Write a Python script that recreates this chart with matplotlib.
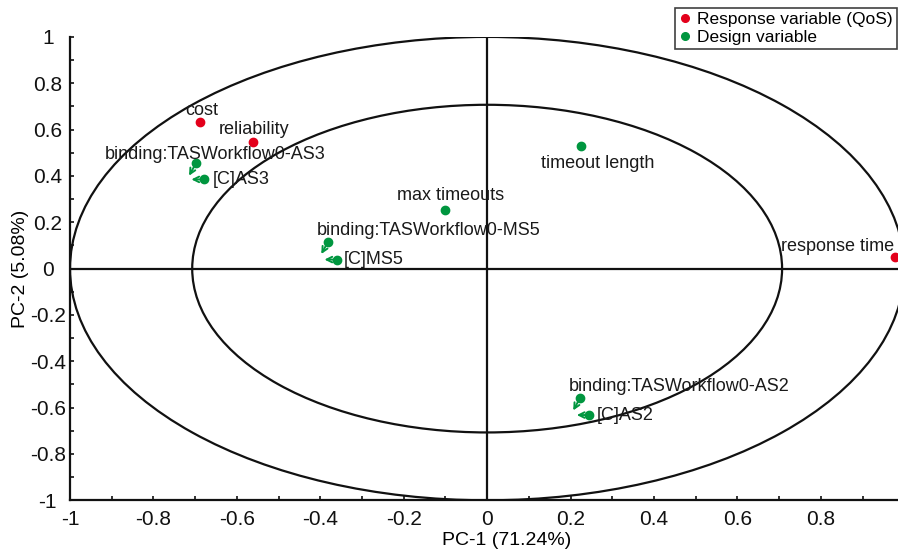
import numpy as np
import matplotlib
matplotlib.use("Agg")
import matplotlib.pyplot as plt
from matplotlib.patches import Ellipse
from matplotlib.lines import Line2D

plt.rcParams['font.family'] = ['Liberation Sans', 'DejaVu Sans']

RED = '#e3001b'
GREEN = '#00963f'

# loadings
labels = ['cost', 'reliability', 'response time',
          'binding:TASWorkflow0-AS3', '[C]AS3',
          'timeout length', 'max timeouts',
          'binding:TASWorkflow0-MS5', '[C]MS5',
          'binding:TASWorkflow0-AS2', '[C]AS2']
pc1 = [-0.688, -0.561, 0.978, -0.698, -0.679, 0.225, -0.100, -0.381, -0.360, 0.223, 0.245]
pc2 = [0.632, 0.545, 0.052, 0.455, 0.385, 0.528, 0.255, 0.117, 0.039, -0.558, -0.632]
kind = ['resp', 'resp', 'resp', 'design', 'design', 'design', 'design',
        'design', 'design', 'design', 'design']

# label placement (offset in points, alignment)
label_pos = {
    'cost': ((1, 2), 'center', 'bottom'),
    'reliability': ((1, 3), 'center', 'bottom'),
    'response time': ((-1, 1), 'right', 'bottom'),
    'binding:TASWorkflow0-AS3': ((14, 0), 'center', 'bottom'),
    '[C]AS3': ((6, 0), 'left', 'center'),
    'timeout length': ((12, -6), 'center', 'top'),
    'max timeouts': ((4, 4), 'center', 'bottom'),
    'binding:TASWorkflow0-MS5': ((-8, 2), 'left', 'bottom'),
    '[C]MS5': ((5, 0), 'left', 'center'),
    'binding:TASWorkflow0-AS2': ((-8, 2), 'left', 'bottom'),
    '[C]AS2': ((5, 0), 'left', 'center'),
}

fig = plt.figure(figsize=(8.98, 5.51), dpi=100)
ax = fig.add_axes([0.078, 0.092, 0.922, 0.841])
ax.set_xlim(-1, 0.985)
ax.set_ylim(-1, 1)

# correlation circles (100% and 50% explained variance)
for r in [1.0, np.sqrt(0.5)]:
    ax.add_patch(Ellipse((0, 0), 2 * r, 2 * r, fill=False, ec='#111111', lw=1.6, zorder=1))
ax.axhline(0, color='#111111', lw=1.6, zorder=1)
ax.axvline(0, color='#111111', lw=1.6, zorder=1)

for x, y, lab, k in zip(pc1, pc2, labels, kind):
    col = RED if k == 'resp' else GREEN
    ax.plot(x, y, 'o', ms=6, color=col, zorder=3, clip_on=False)
    off, ha, va = label_pos[lab]
    ax.annotate(lab, (x, y), xytext=off, textcoords='offset points',
                ha=ha, va=va, fontsize=13, color='#1a1a1a', zorder=4)
    # little pointer arrows for the grouped design variables
    if lab.startswith('binding'):
        ax.annotate('', (x, y), xytext=(-5, -9), textcoords='offset points',
                    arrowprops=dict(arrowstyle='<-', color=col, lw=1.4,
                                    shrinkA=0, shrinkB=0, mutation_scale=10))
    elif lab.startswith('[C]'):
        ax.annotate('', (x, y), xytext=(-9, 0), textcoords='offset points',
                    arrowprops=dict(arrowstyle='<-', color=col, lw=1.4,
                                    shrinkA=0, shrinkB=0, mutation_scale=10))

for s in ['top', 'right']:
    ax.spines[s].set_visible(False)
for s in ['left', 'bottom']:
    ax.spines[s].set_linewidth(1.6)
    ax.spines[s].set_color('#111111')

ax.set_xticks(np.arange(-1, 0.81, 0.2))
ax.set_xticklabels(['-1', '-0.8', '-0.6', '-0.4', '-0.2', '0', '0.2', '0.4', '0.6', '0.8'])
ax.set_yticks(np.arange(-1, 1.01, 0.2))
ax.set_yticklabels(['-1', '-0.8', '-0.6', '-0.4', '-0.2', '0', '0.2', '0.4', '0.6', '0.8', '1'],
                   ha='center')
ax.set_xticks(np.arange(-0.9, 0.95, 0.2), minor=True)
ax.set_yticks(np.arange(-0.9, 0.95, 0.2), minor=True)
ax.tick_params(which='both', direction='in', length=3, width=1.2, labelsize=15,
               colors='#111111')
ax.tick_params(axis='x', pad=7)
ax.tick_params(axis='y', pad=16)

ax.set_xlabel('PC-1 (71.24%)', fontsize=14)
ax.xaxis.set_label_coords(0.527, -0.069)
ax.set_ylabel('PC-2 (5.08%)', fontsize=14)
ax.yaxis.set_label_coords(-0.05, 0.5)

handles = [Line2D([], [], ls='', marker='o', ms=5.5, color=RED, label='Response variable (QoS)'),
           Line2D([], [], ls='', marker='o', ms=5.5, color=GREEN, label='Design variable')]
leg = fig.legend(handles=handles, loc='upper right', bbox_to_anchor=(0.999, 0.986),
                 fontsize=12.5, frameon=True, fancybox=False, handlelength=0.6,
                 handletextpad=0.4, borderpad=0.25, labelspacing=0.15, borderaxespad=0)
leg.get_frame().set_edgecolor('#111111')
leg.get_frame().set_linewidth(1.2)

fig.savefig('out.png', dpi=100)
